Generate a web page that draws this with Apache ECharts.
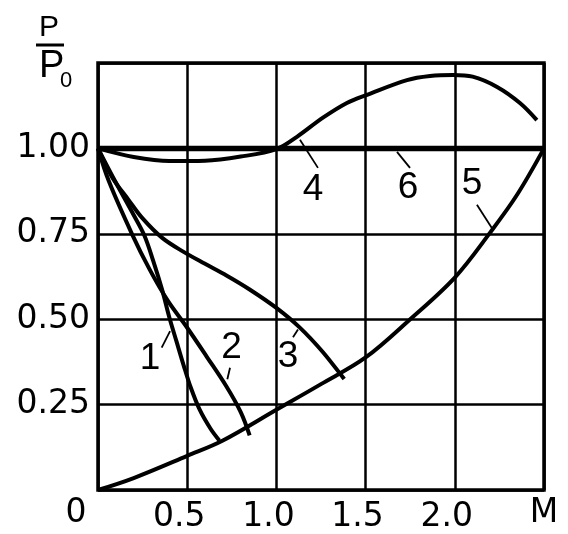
<!DOCTYPE html>
<html lang="en" style="height: 100%">
<head>
  <meta charset="utf-8">
</head>
<body style="height: 100%; margin: 0; background: #fff">
  <div id="container" style="width: 568px; height: 534px"></div>

<script type="text/javascript" src="https://cdn.jsdelivr.net/npm/echarts@6/dist/echarts.min.js"></script>

<script type="text/javascript">
// curves: [M, P/P0]
var curve1 = [[0, 1.0], [0.1, 0.9], [0.2, 0.805], [0.26, 0.745], [0.31, 0.67], [0.36, 0.585],
  [0.4, 0.505], [0.44, 0.435], [0.48, 0.365], [0.52, 0.3], [0.57, 0.235], [0.63, 0.18], [0.68, 0.145]];
var curve2 = [[0, 1.0], [0.06, 0.905], [0.19, 0.75], [0.29, 0.645], [0.39, 0.555], [0.5, 0.475],
  [0.61, 0.39], [0.72, 0.303], [0.8, 0.228], [0.85, 0.16]];
var curve3 = [[0, 1.0], [0.08, 0.915], [0.17, 0.85], [0.25, 0.795], [0.36, 0.738], [0.48, 0.697],
  [0.6, 0.662], [0.72, 0.628], [0.85, 0.587], [1.0, 0.533], [1.13, 0.476], [1.26, 0.404], [1.38, 0.325]];
var curve4 = [[0, 1.0], [0.2, 0.975], [0.4, 0.963], [0.6, 0.964], [0.8, 0.976], [1.0, 0.998],
  [1.115, 1.034], [1.261, 1.09], [1.395, 1.133], [1.508, 1.157], [1.732, 1.2], [1.861, 1.212],
  [1.99, 1.215], [2.1, 1.21], [2.237, 1.18], [2.365, 1.133], [2.46, 1.083]];
var curve5 = [[0, 0], [0.2, 0.035], [0.5, 0.1], [0.7, 0.145], [1.0, 0.235], [1.25, 0.31], [1.5, 0.388],
  [1.75, 0.5], [2.0, 0.622], [2.2, 0.755], [2.35, 0.865], [2.5, 1.0]];
var curve6 = [[0, 1.0], [2.5, 1.0]];

// curve numbers and their leader strokes (data coords)
var curveNames = ['1', '2', '3', '4', '5', '6'];
var namePos = [[0.291, 0.383], [0.749, 0.415], [1.065, 0.391], [1.205, 0.879], [2.096, 0.897], [1.738, 0.885]];
var leaders = [
  [[0.357, 0.417], [0.404, 0.465]],
  [[0.74, 0.358], [0.725, 0.324]],
  [[1.093, 0.447], [1.121, 0.47]],
  [[1.132, 1.025], [1.233, 0.943]],
  [[2.124, 0.835], [2.214, 0.762]],
  [[1.676, 0.99], [1.749, 0.943]]
];

var dom = document.getElementById('container');
var myChart = echarts.init(dom, null, { renderer: 'canvas' });

function curve(data, w) {
  return {
    type: 'line',
    data: data,
    smooth: 0.35,
    symbol: 'none',
    lineStyle: { color: '#000', width: w || 4 },
    z: 3
  };
}

var option = {
  animation: false,
  backgroundColor: '#fff',
  grid: {
    left: 98, right: 24, top: 63, bottom: 43,
    show: true, borderColor: '#000', borderWidth: 3.5
  },
  xAxis: {
    type: 'value',
    min: 0, max: 2.5, interval: 0.5,
    axisLine: { show: false },
    axisTick: { show: false },
    splitLine: { lineStyle: { color: '#000', width: 2.5 } },
    axisLabel: {
      margin: 7,
      color: '#000',
      formatter: function (v) {
        if (v === 0) return '{z|0}';
        if (v === 2.5) return '{m|M}';
        return '{n|' + v.toFixed(1) + '}';
      },
      rich: {
        z: { fontFamily: 'DejaVu Sans', fontSize: 33, color: '#000', padding: [0, 44, 0, 0] },
        m: { fontFamily: 'DejaVu Sans', fontSize: 33, color: '#000' },
        n: { fontFamily: 'DejaVu Sans', fontSize: 33, color: '#000', padding: [4, 16, 0, 0] }
      }
    }
  },
  yAxis: {
    type: 'value',
    min: 0, max: 1.25, interval: 0.25,
    axisLine: { show: false },
    axisTick: { show: false },
    splitLine: { lineStyle: { color: '#000', width: 2.5 } },
    axisLabel: {
      margin: 8,
      color: '#000',
      fontFamily: 'DejaVu Sans',
      fontSize: 33,
      formatter: function (v) {
        if (v === 0 || v > 1.2) return '';
        return v.toFixed(2);
      }
    }
  },
  graphic: [
    { type: 'text', left: 39, top: 13, style: { text: 'P', font: '30px "Liberation Sans"', fill: '#000' } },
    { type: 'line', shape: { x1: 36, y1: 45, x2: 64, y2: 45 }, style: { stroke: '#000', lineWidth: 3 } },
    { type: 'text', left: 39, top: 48, style: { text: 'P', font: '38px "Liberation Sans"', fill: '#000' } },
    { type: 'text', left: 60, top: 70, style: { text: '0', font: '22px "Liberation Sans"', fill: '#000' } }
  ],
  series: [
    curve(curve1),
    curve(curve2),
    curve(curve3),
    curve(curve4),
    curve(curve5),
    curve(curve6, 5.5),
    {
      type: 'scatter',
      symbolSize: 0,
      itemStyle: { opacity: 1 },
      data: namePos.map(function (p, i) { return { name: curveNames[i], value: p }; }),
      label: {
        show: true,
        position: 'inside',
        formatter: '{b}',
        color: '#000',
        opacity: 1,
        fontFamily: 'Liberation Sans',
        fontSize: 37
      },
      markLine: {
        silent: true,
        symbol: ['none', 'none'],
        label: { show: false },
        lineStyle: { type: 'solid', color: '#000', width: 1.8, opacity: 1 },
        data: leaders.map(function (l) { return [{ coord: l[0] }, { coord: l[1] }]; })
      },
      z: 4
    }
  ]
};

myChart.setOption(option);
window.addEventListener('resize', myChart.resize);
</script>
</body>
</html>
